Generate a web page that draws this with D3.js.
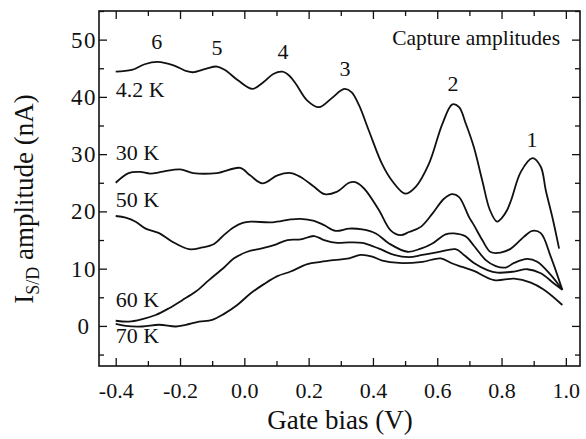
<!DOCTYPE html>
<html><head><meta charset="utf-8">
<script src="https://cdn.jsdelivr.net/npm/d3@7"></script>
<style>html,body{margin:0;padding:0;background:#fff;}svg{display:block;}</style>
</head><body>
<svg id="chart" width="586" height="439"></svg>
<script>
// ---- data ----
const xTicks = [-0.4, -0.2, 0.0, 0.2, 0.4, 0.6, 0.8, 1.0];
const yTicks = [0, 10, 20, 30, 40, 50];
const xTickLabels = ["-0.4", "-0.2", "0.0", "0.2", "0.4", "0.6", "0.8", "1.0"];
const yTickLabels = ["0", "10", "20", "30", "40", "50"];

const bias4K = [-0.40,-0.35,-0.31,-0.27,-0.22,-0.18,-0.16,-0.12,-0.085,-0.06,-0.02,0.025,0.06,0.09,0.118,0.14,0.16,0.195,0.232,0.27,0.30,0.313,0.334,0.357,0.388,0.429,0.46,0.50,0.533,0.574,0.616,0.647,0.668,0.689,0.714,0.74,0.764,0.786,0.80,0.817,0.83,0.86,0.896,0.922,0.9375,0.96,0.979];
const amp4K  = [44.4,44.7,45.7,46.1,45.5,44.5,44.3,44.9,45.3,44.7,42.9,41.4,42.6,44.0,44.4,43.7,42.3,39.4,38.2,39.7,41.1,41.4,40.8,38.5,34.0,28.2,25.3,23.1,24.3,28.3,35.3,38.7,38.2,35.3,31.2,25.4,20.2,18.2,18.8,20.2,22.0,26.9,29.3,27.8,23.7,18.5,13.5];

const bias30K = [-0.40,-0.36,-0.324,-0.293,-0.253,-0.20,-0.159,-0.086,-0.013,0.018,0.056,0.103,0.144,0.175,0.217,0.25,0.287,0.326,0.345,0.365,0.38,0.419,0.455,0.486,0.512,0.549,0.585,0.621,0.647,0.668,0.699,0.714,0.74,0.766,0.797,0.829,0.87,0.896,0.922,0.953,0.989];
const amp30K  = [25.0,26.7,26.9,26.6,26.95,27.35,26.7,26.7,27.6,26.3,24.9,26.3,26.7,26.0,24.3,23.0,23.4,25.0,25.1,24.4,23.5,20.2,16.7,15.85,16.4,17.3,19.6,22.2,23.0,22.5,19.0,17.6,15.0,12.9,12.8,13.5,15.6,16.6,16.2,12.1,6.3];

const bias50K = [-0.40,-0.369,-0.338,-0.307,-0.265,-0.224,-0.172,-0.131,-0.094,-0.063,-0.034,-0.005,0.02,0.087,0.144,0.175,0.217,0.248,0.284,0.326,0.367,0.409,0.45,0.507,0.549,0.585,0.626,0.652,0.689,0.714,0.751,0.782,0.813,0.839,0.88,0.911,0.953,0.989];
const amp50K  = [19.2,18.9,18.2,17.0,16.2,14.7,13.4,13.7,14.3,15.9,17.2,18.0,18.2,18.1,18.6,18.7,18.35,17.6,16.6,17.0,16.85,16.15,14.4,12.95,13.5,14.4,16.0,16.15,15.6,14.0,11.5,10.45,10.2,11.0,11.7,11.2,8.9,6.3];

const bias60K = [-0.40,-0.359,-0.317,-0.276,-0.234,-0.193,-0.151,-0.11,-0.063,-0.032,0.009,0.051,0.092,0.134,0.175,0.217,0.248,0.289,0.326,0.367,0.419,0.466,0.512,0.554,0.606,0.657,0.683,0.714,0.756,0.787,0.839,0.88,0.922,0.963,0.989];
const amp60K  = [0.9,0.75,1.2,1.9,3.1,4.5,6.0,8.0,10.2,11.8,12.95,13.5,14.1,15.0,15.1,15.7,15.0,14.5,14.6,14.5,13.5,12.4,12.0,12.4,12.95,13.4,12.4,11.0,9.75,9.3,9.5,9.9,9.2,7.4,6.3];

const bias70K = [-0.40,-0.369,-0.317,-0.265,-0.213,-0.182,-0.141,-0.10,-0.063,-0.022,0.02,0.061,0.103,0.144,0.196,0.238,0.279,0.326,0.362,0.398,0.429,0.481,0.554,0.611,0.647,0.678,0.714,0.777,0.839,0.891,0.932,0.989];
const amp70K  = [0.35,0.0,-0.1,0.2,-0.1,0.2,0.75,1.05,2.1,3.65,5.7,7.3,8.7,9.5,10.8,11.2,11.5,11.8,12.4,12.1,11.4,11.0,11.2,11.8,10.9,10.3,9.6,8.0,8.25,7.55,6.3,3.65];

const seriesNames = ["4.2 K", "30 K", "50 K", "60 K", "70 K"];
const seriesLabelPos = [[-0.4, 39.9], [-0.4, 28.9], [-0.4, 20.7], [-0.4, 3.3], [-0.4, -3.0]];
const peakNames = ["6", "5", "4", "3", "2", "1"];
const peakBias = [-0.272, -0.085, 0.12, 0.313, 0.649, 0.895];
const peakLabelAmp = [48.4, 47.4, 46.7, 43.7, 41.1, 31.2];

// ---- layout ----
const svg = d3.select("#chart");
const L = 99, R = 580, T = 11, B = 366;
const x = d3.scaleLinear().domain([-0.452, 1.044]).range([L, R]);
const y = d3.scaleLinear().domain([-7, 55]).range([B, T]);
const serif = "'Liberation Serif','Times New Roman',Times,serif";

const series = [
  bias4K.map((b, i) => [b, amp4K[i]]),
  bias30K.map((b, i) => [b, amp30K[i]]),
  bias50K.map((b, i) => [b, amp50K[i]]),
  bias60K.map((b, i) => [b, amp60K[i]]),
  bias70K.map((b, i) => [b, amp70K[i]])
];

const line = d3.line().x(d => x(d[0])).y(d => y(d[1])).curve(d3.curveCatmullRom.alpha(0.5));
svg.append("g").selectAll("path").data(series).join("path")
  .attr("d", line).attr("fill", "none").attr("stroke", "#111").attr("stroke-width", 1.8)
  .attr("stroke-linejoin", "round");

// axes (ticks inward, mirrored)
const xMinor = d3.range(-0.3, 1.01, 0.2).map(v => +v.toFixed(2));
const yMinor = d3.range(-5, 56, 10);
function styleAxis(g) {
  g.select(".domain").remove();
  g.selectAll("line").attr("stroke", "#111").attr("stroke-width", 1.3);
}
const fs = 22;
svg.append("g").attr("transform", `translate(0,${B})`)
  .call(d3.axisBottom(x).tickValues(xTicks).tickFormat((d, i) => xTickLabels[i]).tickSizeInner(-8).tickSizeOuter(0).tickPadding(16))
  .call(styleAxis)
  .call(g => g.selectAll("text").attr("font-family", serif).attr("font-size", fs).attr("fill", "#111"));
svg.append("g").attr("transform", `translate(0,${B})`)
  .call(d3.axisBottom(x).tickValues(xMinor).tickFormat("").tickSizeInner(-5).tickSizeOuter(0)).call(styleAxis);
svg.append("g").attr("transform", `translate(0,${T})`)
  .call(d3.axisTop(x).tickValues(xTicks).tickFormat("").tickSizeInner(-8).tickSizeOuter(0)).call(styleAxis);
svg.append("g").attr("transform", `translate(0,${T})`)
  .call(d3.axisTop(x).tickValues(xMinor).tickFormat("").tickSizeInner(-5).tickSizeOuter(0)).call(styleAxis);

svg.append("g").attr("transform", `translate(${L},0)`)
  .call(d3.axisLeft(y).tickValues(yTicks).tickFormat((d, i) => yTickLabels[i]).tickSizeInner(-8).tickSizeOuter(0).tickPadding(6))
  .call(styleAxis)
  .call(g => g.selectAll("text").attr("font-family", serif).attr("font-size", 23).attr("fill", "#111")
    .attr("text-anchor", "middle").attr("x", -15).attr("letter-spacing", 1.5));
svg.append("g").attr("transform", `translate(${L},0)`)
  .call(d3.axisLeft(y).tickValues(yMinor).tickFormat("").tickSizeInner(-5).tickSizeOuter(0)).call(styleAxis);
svg.append("g").attr("transform", `translate(${R},0)`)
  .call(d3.axisRight(y).tickValues(yTicks).tickFormat("").tickSizeInner(-8).tickSizeOuter(0)).call(styleAxis);
svg.append("g").attr("transform", `translate(${R},0)`)
  .call(d3.axisRight(y).tickValues(yMinor).tickFormat("").tickSizeInner(-5).tickSizeOuter(0)).call(styleAxis);

// frame
svg.append("rect").attr("x", L).attr("y", T).attr("width", R - L).attr("height", B - T)
  .attr("fill", "none").attr("stroke", "#111").attr("stroke-width", 1.6);

// series labels
svg.append("g").selectAll("text").data(seriesNames).join("text")
  .attr("x", (d, i) => x(seriesLabelPos[i][0])).attr("y", (d, i) => y(seriesLabelPos[i][1]))
  .attr("font-family", serif).attr("font-size", fs).attr("fill", "#111").text(d => d);

// peak labels
svg.append("g").selectAll("text").data(peakNames).join("text")
  .attr("x", (d, i) => x(peakBias[i])).attr("y", (d, i) => y(peakLabelAmp[i]))
  .attr("text-anchor", "middle")
  .attr("font-family", serif).attr("font-size", fs).attr("fill", "#111").text(d => d);

svg.append("text").attr("x", 560).attr("y", 45).attr("text-anchor", "end")
  .attr("font-family", serif).attr("font-size", 21.5).attr("fill", "#111").text("Capture amplitudes");

// axis titles
svg.append("text").attr("x", 340).attr("y", 429).attr("text-anchor", "middle")
  .attr("font-family", serif).attr("font-size", 27).attr("fill", "#111").text("Gate bias (V)");

const yt = svg.append("text").attr("transform", "translate(33,199) rotate(-90)")
  .attr("text-anchor", "middle").attr("font-family", serif).attr("font-size", 27).attr("fill", "#111");
yt.append("tspan").text("I");
yt.append("tspan").attr("font-size", 18).attr("dy", 6).text("S/D");
yt.append("tspan").attr("dy", -6).text(" amplitude (nA)");
</script>
</body></html>
